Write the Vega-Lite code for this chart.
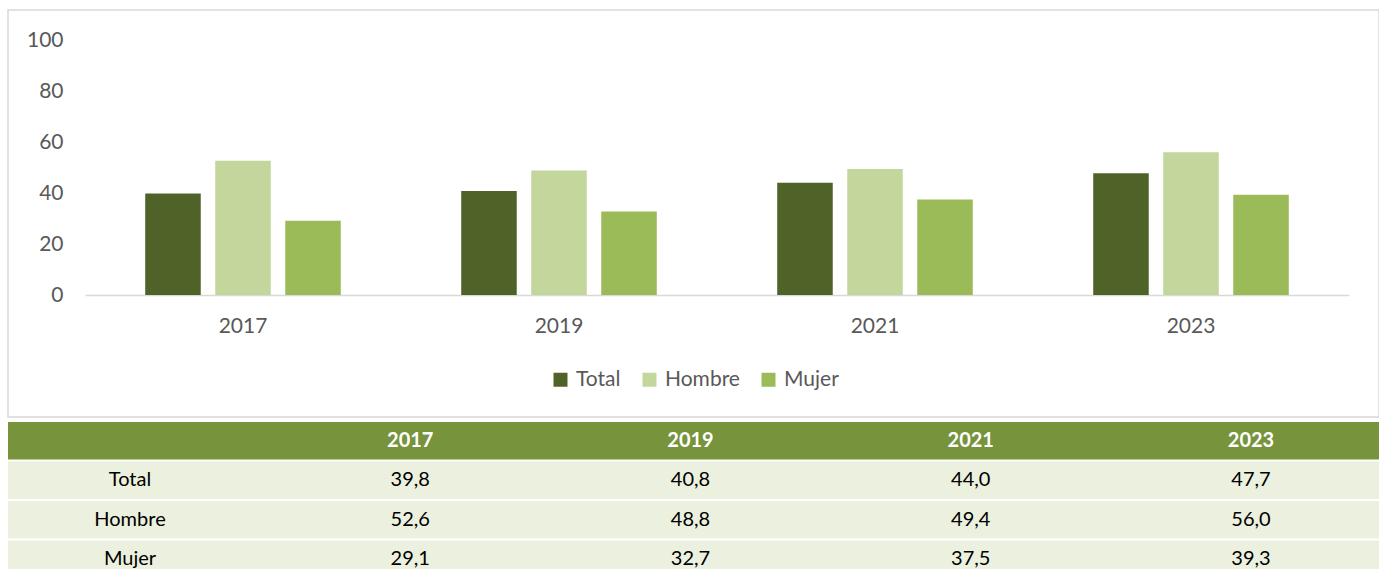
{
  "$schema": "https://vega.github.io/schema/vega-lite/v6.json",
  "padding": {"left": 7, "top": 9, "right": 0, "bottom": 0},
  "spacing": 4,
  "config": {
    "font": "Lato",
    "locale": {"number": {"decimal": ",", "thousands": ".", "grouping": [3], "currency": ["", " €"]}}
  },
  "resolve": {"scale": {"x": "independent", "y": "independent", "color": "independent"}},
  "datasets": {
    "d": [
      {"year": "2017", "group": "Total", "value": 39.8},
      {"year": "2017", "group": "Hombre", "value": 52.6},
      {"year": "2017", "group": "Mujer", "value": 29.1},
      {"year": "2019", "group": "Total", "value": 40.8},
      {"year": "2019", "group": "Hombre", "value": 48.8},
      {"year": "2019", "group": "Mujer", "value": 32.7},
      {"year": "2021", "group": "Total", "value": 44.0},
      {"year": "2021", "group": "Hombre", "value": 49.4},
      {"year": "2021", "group": "Mujer", "value": 37.5},
      {"year": "2023", "group": "Total", "value": 47.7},
      {"year": "2023", "group": "Hombre", "value": 56.0},
      {"year": "2023", "group": "Mujer", "value": 39.3}
    ],
    "rows": [
      {"row": "header"},
      {"row": "Total"},
      {"row": "Hombre"},
      {"row": "Mujer"}
    ]
  },
  "vconcat": [
    {
      "width": 1371,
      "height": 407,
      "view": {"stroke": "#D9D9D9", "strokeWidth": 1.5},
      "data": {"name": "d"},
      "mark": {"type": "bar"},
      "encoding": {
        "x": {
          "field": "year", "type": "nominal",
          "scale": {"range": [77, 1341], "paddingInner": 0, "paddingOuter": 0},
          "axis": {"title": null, "orient": "bottom", "offset": -122, "ticks": false, "tickSize": 0, "labelPadding": 20, "labelFontSize": 21, "labelColor": "#595959", "domainColor": "#D9D9D9", "domainWidth": 1.5, "labelAngle": 0}
        },
        "xOffset": {
          "field": "group", "type": "nominal",
          "scale": {"domain": ["Total", "Hombre", "Mujer"], "paddingInner": 0.207, "paddingOuter": 0.86}
        },
        "y": {
          "field": "value", "type": "quantitative",
          "scale": {"domain": [0, 100], "range": [285, 30], "nice": false},
          "axis": {"title": null, "values": [0, 20, 40, 60, 80, 100], "offset": -55, "ticks": false, "tickSize": 0, "labelPadding": 0, "domain": false, "grid": false, "labelFontSize": 21, "labelColor": "#595959"}
        },
        "color": {
          "field": "group", "type": "nominal",
          "scale": {"domain": ["Total", "Hombre", "Mujer"], "range": ["#4F6228", "#C3D69B", "#9BBB59"]},
          "legend": {"title": null, "orient": "none", "direction": "horizontal", "legendX": 542, "legendY": 359, "symbolType": "square", "symbolSize": 196, "symbolStrokeWidth": 0, "labelFontSize": 21, "labelColor": "#595959", "columnPadding": 18, "labelOffset": 5}
        }
      }
    },
    {
      "width": 1371,
      "height": 156,
      "view": {"stroke": null},
      "layer": [
        {
          "data": {"name": "rows"},
          "mark": {"type": "rect"},
          "encoding": {
            "y": {
              "field": "row", "type": "nominal",
              "scale": {"domain": ["header", "Total", "Hombre", "Mujer"], "range": [0, 156], "paddingInner": 0.05, "paddingOuter": 0},
              "axis": null
            },
            "fill": {
              "field": "row", "type": "nominal",
              "scale": {"domain": ["header", "Total", "Hombre", "Mujer"], "range": ["#77933C", "#EBF1DE", "#EBF1DE", "#EBF1DE"]},
              "legend": null
            }
          }
        },
        {
          "data": {"name": "d"},
          "transform": [{"filter": "datum.group === 'Total'"}],
          "mark": {"type": "text", "color": "white", "fontWeight": "bold", "fontSize": 20, "baseline": "middle", "align": "center"},
          "encoding": {
            "x": {
              "field": "year", "type": "nominal",
              "scale": {"type": "point", "domain": ["label", "2017", "2019", "2021", "2023"], "range": [122, 1243], "padding": 0},
              "axis": null
            },
            "y": {"datum": "header", "type": "nominal"},
            "text": {"field": "year"}
          }
        },
        {
          "data": {"name": "d"},
          "mark": {"type": "text", "color": "black", "fontSize": 20, "baseline": "middle", "align": "center"},
          "encoding": {
            "x": {
              "field": "year", "type": "nominal",
              "scale": {"type": "point", "domain": ["label", "2017", "2019", "2021", "2023"], "range": [122, 1243], "padding": 0},
              "axis": null
            },
            "y": {"field": "group", "type": "nominal"},
            "text": {"field": "value", "type": "quantitative", "format": ".1f"}
          }
        },
        {
          "data": {"name": "rows"},
          "transform": [{"filter": "datum.row !== 'header'"}],
          "mark": {"type": "text", "color": "black", "fontSize": 20, "baseline": "middle", "align": "center"},
          "encoding": {
            "x": {
              "datum": "label", "type": "nominal",
              "scale": {"type": "point", "domain": ["label", "2017", "2019", "2021", "2023"], "range": [122, 1243], "padding": 0},
              "axis": null
            },
            "y": {"field": "row", "type": "nominal"},
            "text": {"field": "row"}
          }
        }
      ]
    }
  ]
}
